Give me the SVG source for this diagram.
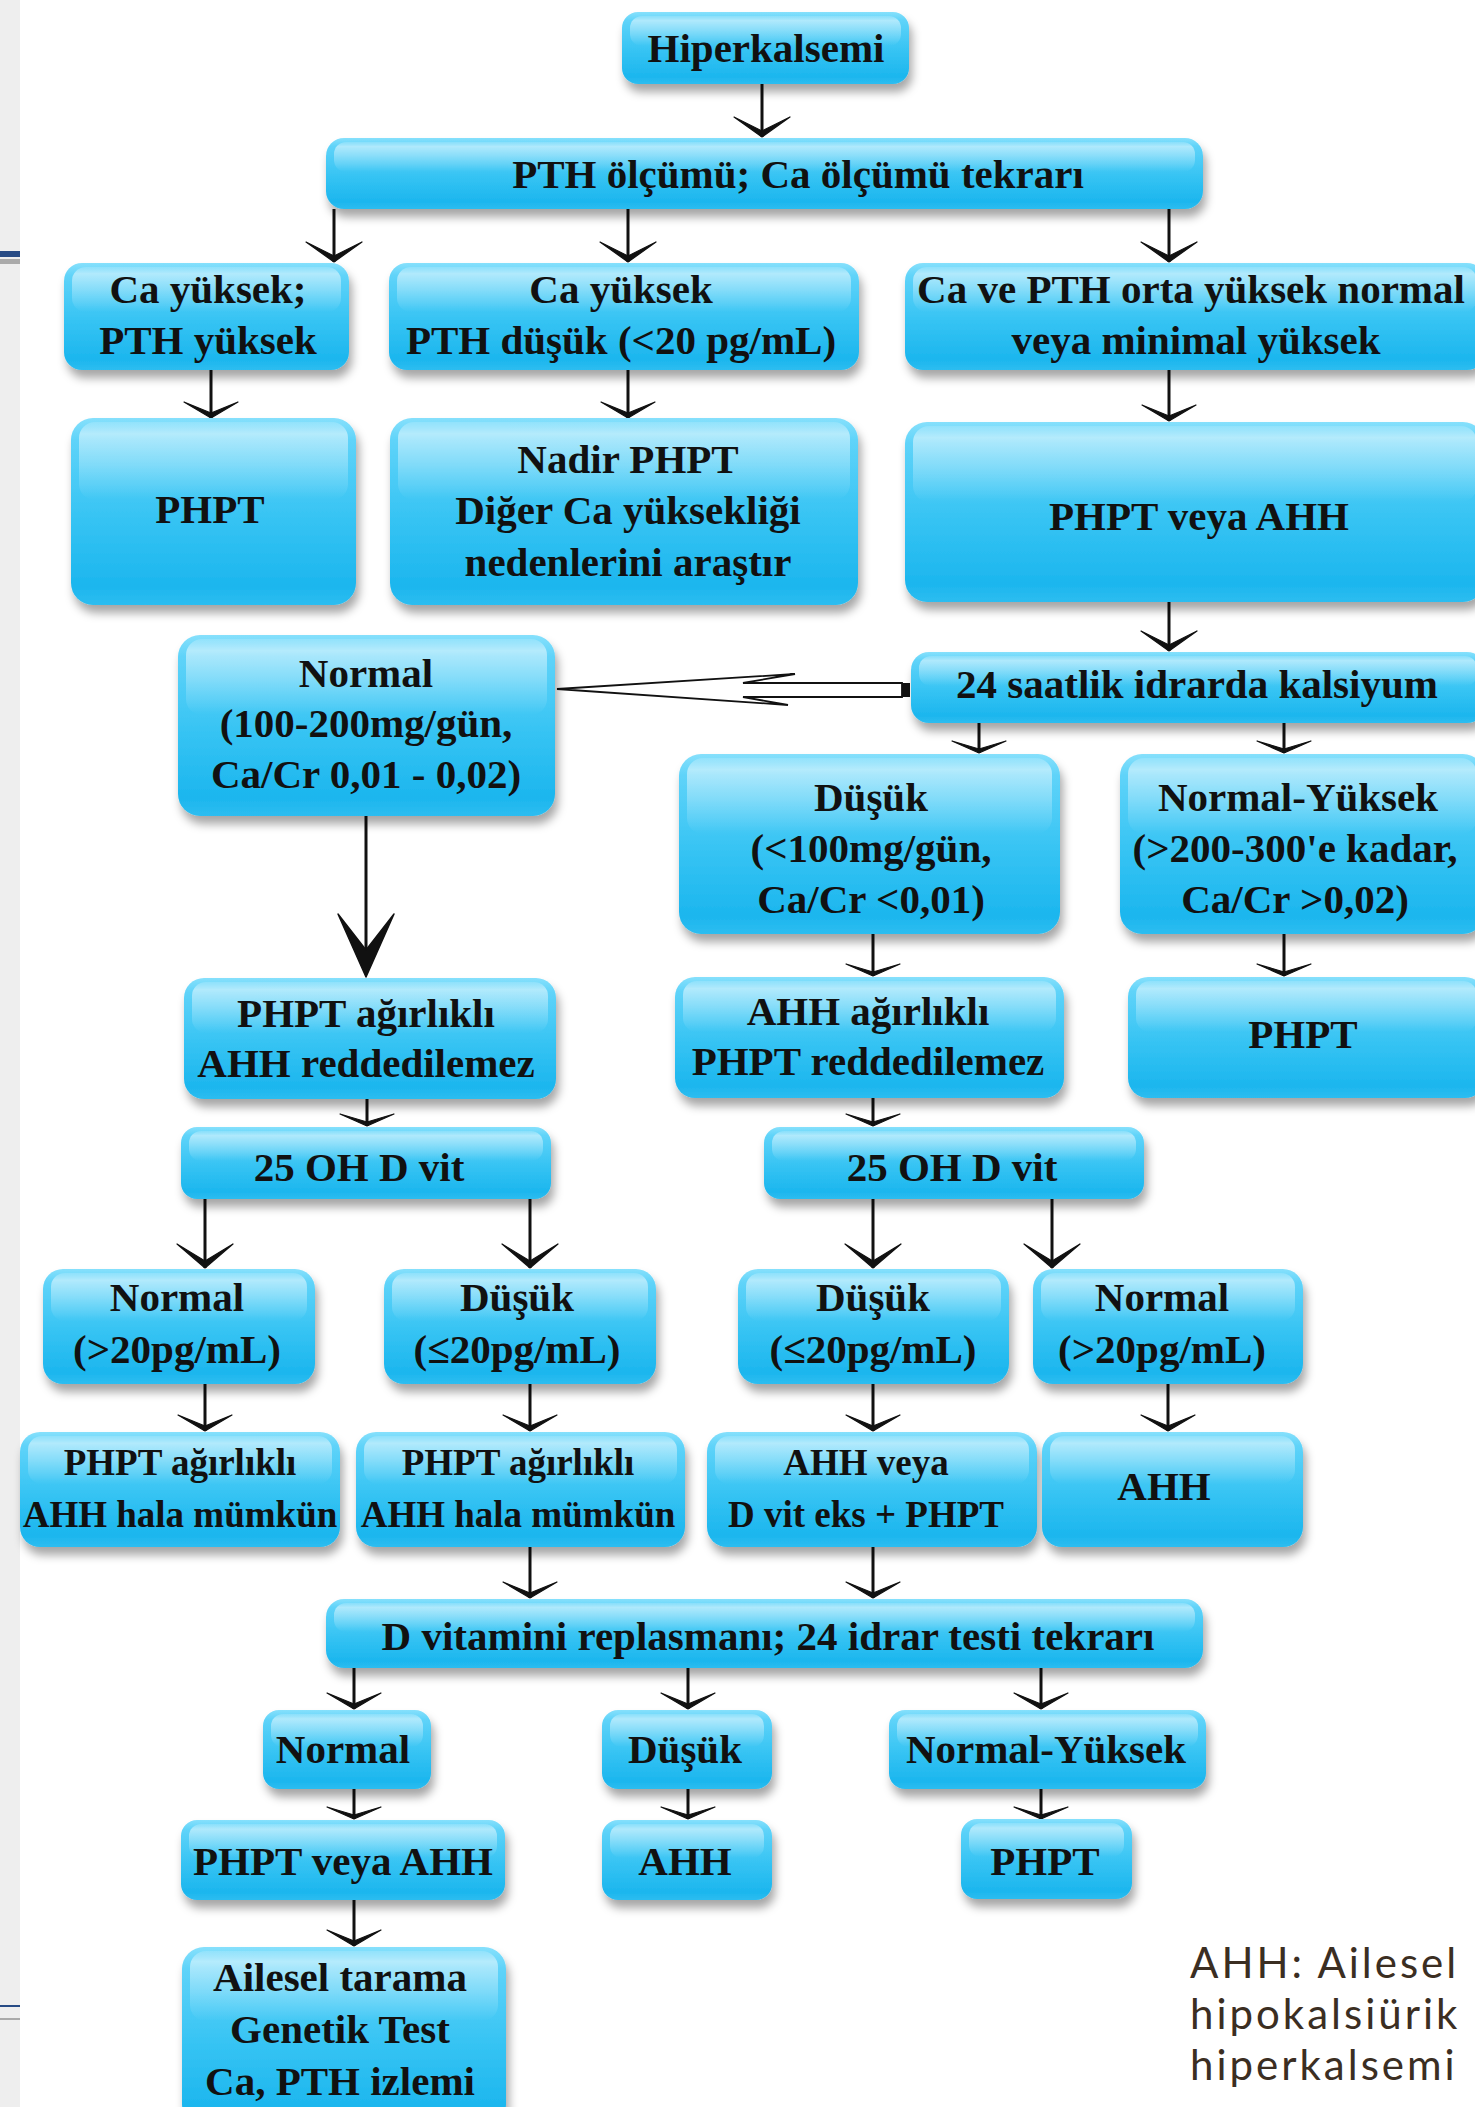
<svg xmlns="http://www.w3.org/2000/svg" width="1475" height="2107" viewBox="0 0 1475 2107">
<style>
.box{fill:url(#bg);filter:url(#sh)}
.gloss{fill:url(#gl)}
.t{font-family:"Liberation Serif","Times New Roman",serif;font-weight:bold;font-size:41px;fill:#111;text-anchor:middle}
.s{font-size:37px}
.ln{stroke:#111;stroke-width:3;fill:none}
.leg{font-family:Lato,"Open Sans",sans-serif;font-size:42px;letter-spacing:3px;fill:#3b2e22}
</style>
<defs>
<linearGradient id="bg" x1="0" y1="0" x2="0" y2="1">
<stop offset="0" stop-color="#86e0fc"/>
<stop offset="0.12" stop-color="#5fd3f9"/>
<stop offset="0.55" stop-color="#35c3f3"/>
<stop offset="0.9" stop-color="#1cb6ee"/>
<stop offset="1" stop-color="#2dbdf0"/>
</linearGradient>
<linearGradient id="gl" x1="0" y1="0" x2="0" y2="1">
<stop offset="0" stop-color="#ffffff" stop-opacity="0.15"/>
<stop offset="0.15" stop-color="#ffffff" stop-opacity="0.5"/>
<stop offset="1" stop-color="#ffffff" stop-opacity="0"/>
</linearGradient>
<filter id="sh" x="-10%" y="-20%" width="120%" height="150%">
<feDropShadow dx="3" dy="8" stdDeviation="5" flood-color="#000" flood-opacity="0.35"/>
</filter>
<marker id="h12" markerUnits="userSpaceOnUse" markerWidth="70" markerHeight="70" viewBox="-35 -35 70 70" refX="0" refY="0" orient="auto" overflow="visible"><path d="M-12,-27 L0,0 L-12,27 L-4,0 Z" fill="#111" stroke="#111" stroke-width="1.2" stroke-linejoin="round"/></marker>
<marker id="h16" markerUnits="userSpaceOnUse" markerWidth="70" markerHeight="70" viewBox="-35 -35 70 70" refX="0" refY="0" orient="auto" overflow="visible"><path d="M-16,-27 L0,0 L-16,27 L-5,0 Z" fill="#111" stroke="#111" stroke-width="1.2" stroke-linejoin="round"/></marker>
<marker id="h20" markerUnits="userSpaceOnUse" markerWidth="70" markerHeight="70" viewBox="-35 -35 70 70" refX="0" refY="0" orient="auto" overflow="visible"><path d="M-20,-28 L0,0 L-20,28 L-6,0 Z" fill="#111" stroke="#111" stroke-width="1.2" stroke-linejoin="round"/></marker>
<marker id="h24" markerUnits="userSpaceOnUse" markerWidth="70" markerHeight="70" viewBox="-35 -35 70 70" refX="0" refY="0" orient="auto" overflow="visible"><path d="M-24,-28 L0,0 L-24,28 L-7,0 Z" fill="#111" stroke="#111" stroke-width="1.2" stroke-linejoin="round"/></marker>
</defs>
<rect x="0" y="0" width="1475" height="2107" fill="#ffffff"/>
<g id="strip">
<rect x="0" y="0" width="20" height="2107" fill="#eeeeee"/>
<rect x="0" y="251" width="20" height="6" fill="#274b85"/>
<rect x="0" y="259" width="20" height="5" fill="#aaaaaa"/>
<rect x="0" y="2005" width="20" height="2" fill="#274b85"/>
<rect x="0" y="2018" width="20" height="2" fill="#aaaaaa"/>
</g>
<g id="connectors">
<line class="ln" x1="762" y1="84" x2="762" y2="137" marker-end="url(#h20)"/>
<line class="ln" x1="334" y1="209" x2="334" y2="262" marker-end="url(#h20)"/>
<line class="ln" x1="628" y1="209" x2="628" y2="262" marker-end="url(#h20)"/>
<line class="ln" x1="1169" y1="209" x2="1169" y2="262" marker-end="url(#h20)"/>
<line class="ln" x1="211" y1="370" x2="211" y2="418" marker-end="url(#h16)"/>
<line class="ln" x1="628" y1="370" x2="628" y2="418" marker-end="url(#h16)"/>
<line class="ln" x1="1169" y1="370" x2="1169" y2="421" marker-end="url(#h16)"/>
<line class="ln" x1="1169" y1="602" x2="1169" y2="651" marker-end="url(#h20)"/>
<line class="ln" x1="979" y1="723" x2="979" y2="753" marker-end="url(#h12)"/>
<line class="ln" x1="1284" y1="723" x2="1284" y2="753" marker-end="url(#h12)"/>
<g id="hollow-arrow">
<polygon points="557,689 795,674 743,683 902,683 902,697 743,697 788,705" fill="#ffffff" stroke="#111" stroke-width="1.8" stroke-linejoin="miter"/>
<rect x="902" y="683" width="8" height="14" fill="#111"/>
</g>
<line class="ln" x1="366" y1="816" x2="366" y2="960"/>
<path d="M338,914 L366,977 L394,914 L366,950 Z" fill="#111" stroke="#111" stroke-width="1.5" stroke-linejoin="round"/>
<line class="ln" x1="873" y1="934" x2="873" y2="976" marker-end="url(#h12)"/>
<line class="ln" x1="1284" y1="934" x2="1284" y2="976" marker-end="url(#h12)"/>
<line class="ln" x1="367" y1="1099" x2="367" y2="1126" marker-end="url(#h12)"/>
<line class="ln" x1="873" y1="1098" x2="873" y2="1126" marker-end="url(#h12)"/>
<line class="ln" x1="205" y1="1199" x2="205" y2="1268" marker-end="url(#h24)"/>
<line class="ln" x1="530" y1="1199" x2="530" y2="1268" marker-end="url(#h24)"/>
<line class="ln" x1="873" y1="1199" x2="873" y2="1268" marker-end="url(#h24)"/>
<line class="ln" x1="1052" y1="1199" x2="1052" y2="1268" marker-end="url(#h24)"/>
<line class="ln" x1="205" y1="1384" x2="205" y2="1431" marker-end="url(#h16)"/>
<line class="ln" x1="530" y1="1384" x2="530" y2="1431" marker-end="url(#h16)"/>
<line class="ln" x1="873" y1="1384" x2="873" y2="1431" marker-end="url(#h16)"/>
<line class="ln" x1="1168" y1="1384" x2="1168" y2="1431" marker-end="url(#h16)"/>
<line class="ln" x1="530" y1="1547" x2="530" y2="1598" marker-end="url(#h16)"/>
<line class="ln" x1="873" y1="1547" x2="873" y2="1598" marker-end="url(#h16)"/>
<line class="ln" x1="354" y1="1668" x2="354" y2="1709" marker-end="url(#h16)"/>
<line class="ln" x1="688" y1="1668" x2="688" y2="1709" marker-end="url(#h16)"/>
<line class="ln" x1="1041" y1="1668" x2="1041" y2="1709" marker-end="url(#h16)"/>
<line class="ln" x1="354" y1="1789" x2="354" y2="1819" marker-end="url(#h12)"/>
<line class="ln" x1="688" y1="1789" x2="688" y2="1819" marker-end="url(#h12)"/>
<line class="ln" x1="1041" y1="1789" x2="1041" y2="1819" marker-end="url(#h12)"/>
<line class="ln" x1="354" y1="1900" x2="354" y2="1946" marker-end="url(#h16)"/>
</g>
<g id="n1"><rect class="box" x="622" y="12" width="287" height="72" rx="16"/><rect class="gloss" x="630" y="16" width="271" height="30" rx="12"/><text class="t" x="766" y="62">Hiperkalsemi</text></g>
<g id="n2"><rect class="box" x="326" y="138" width="877" height="71" rx="18"/><rect class="gloss" x="334" y="142" width="861" height="30" rx="12"/><text class="t" x="798" y="188">PTH ölçümü; Ca ölçümü tekrarı</text></g>
<g id="n3"><rect class="box" x="64" y="263" width="285" height="107" rx="18"/><rect class="gloss" x="72" y="267" width="269" height="45" rx="14"/><text class="t" x="208" y="303">Ca yüksek;</text><text class="t" x="208" y="354">PTH yüksek</text></g>
<g id="n4"><rect class="box" x="389" y="263" width="470" height="107" rx="18"/><rect class="gloss" x="397" y="267" width="454" height="45" rx="14"/><text class="t" x="621" y="303">Ca yüksek</text><text class="t" x="621" y="354">PTH düşük (&lt;20 pg/mL)</text></g>
<g id="n5"><rect class="box" x="905" y="263" width="580" height="107" rx="18"/><rect class="gloss" x="913" y="267" width="564" height="45" rx="14"/><text class="t" x="1191" y="303">Ca ve PTH orta yüksek normal</text><text class="t" x="1196" y="354">veya minimal yüksek</text></g>
<g id="n6"><rect class="box" x="71" y="418" width="285" height="187" rx="22"/><rect class="gloss" x="79" y="422" width="269" height="78" rx="16"/><text class="t" x="210" y="523">PHPT</text></g>
<g id="n7"><rect class="box" x="390" y="418" width="468" height="187" rx="22"/><rect class="gloss" x="398" y="422" width="452" height="78" rx="16"/><text class="t" x="628" y="473">Nadir PHPT</text><text class="t" x="628" y="524">Diğer Ca yüksekliği</text><text class="t" x="628" y="576">nedenlerini araştır</text></g>
<g id="n8"><rect class="box" x="905" y="422" width="580" height="180" rx="22"/><rect class="gloss" x="913" y="426" width="564" height="76" rx="16"/><text class="t" x="1199" y="530">PHPT veya AHH</text></g>
<g id="n9"><rect class="box" x="911" y="652" width="574" height="71" rx="18"/><rect class="gloss" x="919" y="656" width="558" height="30" rx="12"/><text class="t" x="1197" y="698">24 saatlik idrarda kalsiyum</text></g>
<g id="n10"><rect class="box" x="178" y="635" width="377" height="181" rx="22"/><rect class="gloss" x="186" y="639" width="361" height="76" rx="16"/><text class="t" x="366" y="687">Normal</text><text class="t" x="366" y="737">(100-200mg/gün,</text><text class="t" x="366" y="788">Ca/Cr 0,01 - 0,02)</text></g>
<g id="n11"><rect class="box" x="679" y="754" width="381" height="180" rx="22"/><rect class="gloss" x="687" y="758" width="365" height="76" rx="16"/><text class="t" x="871" y="811">Düşük</text><text class="t" x="871" y="862">(&lt;100mg/gün,</text><text class="t" x="871" y="913">Ca/Cr &lt;0,01)</text></g>
<g id="n12"><rect class="box" x="1120" y="754" width="365" height="180" rx="22"/><rect class="gloss" x="1128" y="758" width="349" height="76" rx="16"/><text class="t" x="1298" y="811">Normal-Yüksek</text><text class="t" x="1295" y="862">(&gt;200-300'e kadar,</text><text class="t" x="1295" y="913">Ca/Cr &gt;0,02)</text></g>
<g id="n13"><rect class="box" x="184" y="978" width="372" height="121" rx="20"/><rect class="gloss" x="192" y="982" width="356" height="51" rx="14"/><text class="t" x="366" y="1027">PHPT ağırlıklı</text><text class="t" x="366" y="1077">AHH reddedilemez</text></g>
<g id="n14"><rect class="box" x="675" y="977" width="389" height="121" rx="20"/><rect class="gloss" x="683" y="981" width="373" height="51" rx="14"/><text class="t" x="868" y="1025">AHH ağırlıklı</text><text class="t" x="868" y="1075">PHPT reddedilemez</text></g>
<g id="n15"><rect class="box" x="1128" y="977" width="357" height="121" rx="20"/><rect class="gloss" x="1136" y="981" width="341" height="51" rx="14"/><text class="t" x="1303" y="1048">PHPT</text></g>
<g id="n16"><rect class="box" x="181" y="1127" width="370" height="72" rx="16"/><rect class="gloss" x="189" y="1131" width="354" height="30" rx="12"/><text class="t" x="359" y="1181">25 OH D vit</text></g>
<g id="n17"><rect class="box" x="764" y="1127" width="380" height="72" rx="16"/><rect class="gloss" x="772" y="1131" width="364" height="30" rx="12"/><text class="t" x="952" y="1181">25 OH D vit</text></g>
<g id="n18"><rect class="box" x="43" y="1269" width="272" height="115" rx="20"/><rect class="gloss" x="51" y="1273" width="256" height="48" rx="14"/><text class="t" x="177" y="1311">Normal</text><text class="t" x="177" y="1363">(&gt;20pg/mL)</text></g>
<g id="n19"><rect class="box" x="384" y="1269" width="272" height="115" rx="20"/><rect class="gloss" x="392" y="1273" width="256" height="48" rx="14"/><text class="t" x="517" y="1311">Düşük</text><text class="t" x="517" y="1363">(≤20pg/mL)</text></g>
<g id="n20"><rect class="box" x="738" y="1269" width="271" height="115" rx="20"/><rect class="gloss" x="746" y="1273" width="255" height="48" rx="14"/><text class="t" x="873" y="1311">Düşük</text><text class="t" x="873" y="1363">(≤20pg/mL)</text></g>
<g id="n21"><rect class="box" x="1033" y="1269" width="270" height="115" rx="20"/><rect class="gloss" x="1041" y="1273" width="254" height="48" rx="14"/><text class="t" x="1162" y="1311">Normal</text><text class="t" x="1162" y="1363">(&gt;20pg/mL)</text></g>
<g id="n22"><rect class="box" x="20" y="1432" width="320" height="115" rx="20"/><rect class="gloss" x="28" y="1436" width="304" height="48" rx="14"/><text class="t s" x="180" y="1475">PHPT ağırlıklı</text><text class="t s" x="180" y="1527">AHH hala mümkün</text></g>
<g id="n23"><rect class="box" x="356" y="1432" width="329" height="115" rx="20"/><rect class="gloss" x="364" y="1436" width="313" height="48" rx="14"/><text class="t s" x="518" y="1475">PHPT ağırlıklı</text><text class="t s" x="518" y="1527">AHH hala mümkün</text></g>
<g id="n24"><rect class="box" x="707" y="1432" width="330" height="115" rx="20"/><rect class="gloss" x="715" y="1436" width="314" height="48" rx="14"/><text class="t s" x="866" y="1475">AHH veya</text><text class="t s" x="866" y="1527">D vit eks + PHPT</text></g>
<g id="n25"><rect class="box" x="1042" y="1432" width="261" height="115" rx="20"/><rect class="gloss" x="1050" y="1436" width="245" height="48" rx="14"/><text class="t" x="1164" y="1500">AHH</text></g>
<g id="n26"><rect class="box" x="326" y="1599" width="877" height="69" rx="18"/><rect class="gloss" x="334" y="1603" width="861" height="29" rx="12"/><text class="t" x="768" y="1650">D vitamini replasmanı; 24 idrar testi tekrarı</text></g>
<g id="n27"><rect class="box" x="263" y="1710" width="168" height="79" rx="16"/><rect class="gloss" x="271" y="1714" width="152" height="33" rx="12"/><text class="t" x="343" y="1763">Normal</text></g>
<g id="n28"><rect class="box" x="602" y="1710" width="170" height="79" rx="16"/><rect class="gloss" x="610" y="1714" width="154" height="33" rx="12"/><text class="t" x="685" y="1763">Düşük</text></g>
<g id="n29"><rect class="box" x="889" y="1710" width="317" height="79" rx="16"/><rect class="gloss" x="897" y="1714" width="301" height="33" rx="12"/><text class="t" x="1046" y="1763">Normal-Yüksek</text></g>
<g id="n30"><rect class="box" x="181" y="1820" width="324" height="80" rx="16"/><rect class="gloss" x="189" y="1824" width="308" height="34" rx="12"/><text class="t" x="343" y="1875">PHPT veya AHH</text></g>
<g id="n31"><rect class="box" x="602" y="1820" width="170" height="80" rx="16"/><rect class="gloss" x="610" y="1824" width="154" height="34" rx="12"/><text class="t" x="685" y="1875">AHH</text></g>
<g id="n32"><rect class="box" x="961" y="1819" width="171" height="80" rx="16"/><rect class="gloss" x="969" y="1823" width="155" height="34" rx="12"/><text class="t" x="1045" y="1875">PHPT</text></g>
<g id="n33"><rect class="box" x="182" y="1947" width="324" height="180" rx="22"/><rect class="gloss" x="190" y="1951" width="308" height="70" rx="16"/><text class="t" x="340" y="1991">Ailesel tarama</text><text class="t" x="340" y="2043">Genetik Test</text><text class="t" x="340" y="2095">Ca, PTH izlemi</text></g>
<g id="legend">
<text class="leg" x="1190" y="1978">AHH: Ailesel</text>
<text class="leg" x="1190" y="2029">hipokalsiürik</text>
<text class="leg" x="1190" y="2080">hiperkalsemi</text>
</g>
</svg>
